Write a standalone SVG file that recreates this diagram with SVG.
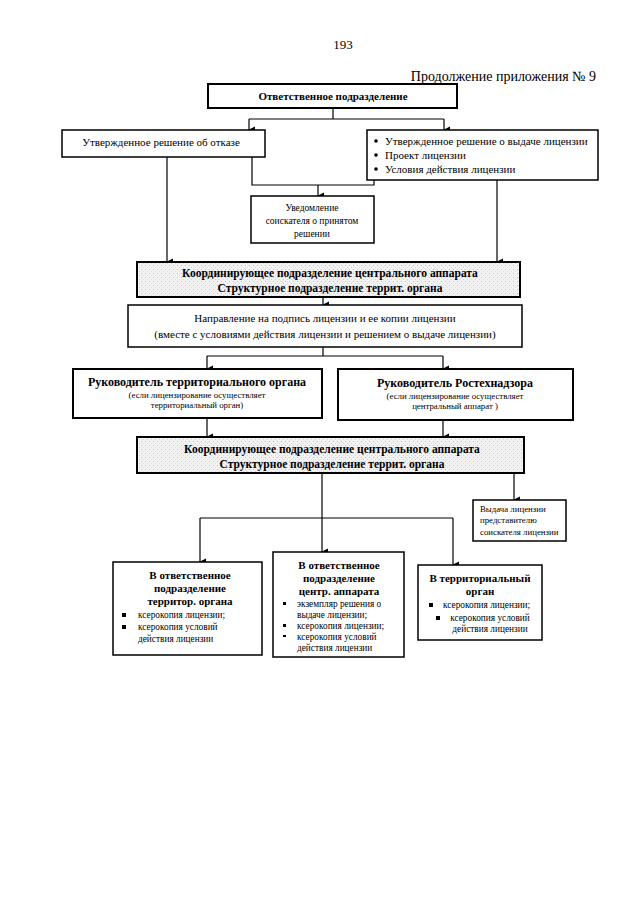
<svg xmlns="http://www.w3.org/2000/svg" width="640" height="905" viewBox="0 0 640 905">
<defs>
<marker id="ah" markerWidth="8" markerHeight="8" refX="4" refY="7" orient="auto-start-reverse" markerUnits="userSpaceOnUse" viewBox="0 0 8 8">
<path d="M0.5,1 L7.5,1 L4,8 Z" fill="#000"/>
</marker>
<pattern id="speck" width="4" height="4" patternUnits="userSpaceOnUse">
<rect width="4" height="4" fill="#f2f2f2"/>
<rect x="1" y="1" width="1" height="1" fill="#c4c4c4"/>
<rect x="3" y="3" width="1" height="1" fill="#d8d8d8"/>
</pattern>
</defs>
<style>
text{font-family:"Liberation Serif","Times New Roman",serif;fill:#000}
.box{fill:#fff;stroke:#000;stroke-width:1.5}
.thick{fill:#fff;stroke:#000;stroke-width:2}
.shade{fill:url(#speck);stroke:#000;stroke-width:2}
.n{font-size:11px}
.b{font-size:11.5px;font-weight:bold}
.bt{font-size:12px;font-weight:bold}
.s{font-size:8.8px}
.sm{font-size:9.5px}
.bb{font-size:11px;font-weight:bold}
.t{font-size:9.3px}
.c{text-anchor:middle}
.ln{fill:none;stroke:#000;stroke-width:1.2}
.ar{fill:none;stroke:#000;stroke-width:1.2;marker-end:url(#ah)}
</style>
<rect width="640" height="905" fill="#fff"/>
<text x="343" y="49" class="c" style="font-size:13px">193</text>
<text x="596" y="81" style="font-size:14px;text-anchor:end">Продолжение приложения № 9</text>

<g id="connectors">
<polyline class="ln" points="333,108 333,119"/>
<polyline class="ln" points="249,119 444,119"/>
<polyline class="ar" points="249,119 249,130"/>
<polyline class="ar" points="444,119 444,130"/>
<polyline class="ln" points="252,157 252,185 374,185 374,180"/>
<polyline class="ar" points="318,185 318,196"/>
<polyline class="ar" points="167,157 167,262"/>
<polyline class="ar" points="497,180 497,262"/>
<polyline class="ar" points="323,297 323,305"/>
<polyline class="ln" points="323,347 323,356"/>
<polyline class="ln" points="207,356 443,356"/>
<polyline class="ar" points="207,356 207,369"/>
<polyline class="ar" points="443,356 443,369"/>
<polyline class="ar" points="207,418 207,437"/>
<polyline class="ar" points="443,420 443,437"/>
<polyline class="ar" points="514,473 514,500"/>
<polyline class="ar" points="322,473 322,552"/>
<polyline class="ln" points="200,518 453,518"/>
<polyline class="ar" points="200,518 200,562"/>
<polyline class="ar" points="453,518 453,565"/>
</g>

<g id="n-otv">
<rect class="thick" x="208" y="84" width="249" height="24"/>
<text x="333" y="100" class="c" style="font-size:11px;font-weight:bold">Ответственное подразделение</text>
</g>

<g id="n-otkaz">
<rect class="box" x="62" y="130" width="203" height="27"/>
<text x="161" y="146" class="c n">Утвержденное решение об отказе</text>
</g>

<g id="n-vydacha">
<rect class="box" x="367" y="130" width="231" height="50"/>
<circle cx="376" cy="141" r="1.8"/>
<circle cx="376" cy="155" r="1.8"/>
<circle cx="376" cy="169" r="1.8"/>
<text x="385" y="145" class="n">Утвержденное решение о выдаче лицензии</text>
<text x="385" y="159" class="n">Проект лицензии</text>
<text x="385" y="173" class="n">Условия действия лицензии</text>
</g>

<g id="n-uved">
<rect class="box" x="251" y="196" width="123" height="47"/>
<text x="312" y="211" class="c sm">Уведомление</text>
<text x="312" y="224" class="c sm">соискателя о принятом</text>
<text x="312" y="237" class="c sm">решении</text>
</g>

<g id="n-koord1">
<rect class="shade" x="137" y="262" width="383" height="35"/>
<text x="330" y="277" class="c b">Координирующее подразделение центрального аппарата</text>
<text x="330" y="292" class="c b">Структурное подразделение террит. органа</text>
</g>

<g id="n-napr">
<rect class="box" x="128" y="305" width="394" height="42"/>
<text x="325" y="322" class="c n">Направление на подпись лицензии и ее копии лицензии</text>
<text x="325" y="338" class="c n">(вместе с условиями действия лицензии и решением о выдаче лицензии)</text>
</g>

<g id="n-ruk-terr">
<rect class="thick" x="73" y="369" width="249" height="49"/>
<text x="197" y="386" class="c bt">Руководитель территориального органа</text>
<text x="197" y="398" class="c s">(если лицензирование осуществляет</text>
<text x="197" y="408" class="c s">территориальный орган)</text>
</g>

<g id="n-ruk-rtn">
<rect class="thick" x="338" y="369" width="235" height="51"/>
<text x="455" y="387" class="c bt">Руководитель Ростехнадзора</text>
<text x="455" y="399" class="c s">(если лицензирование осуществляет</text>
<text x="455" y="409" class="c s">центральный аппарат )</text>
</g>

<g id="n-koord2">
<rect class="shade" x="137" y="437" width="387" height="36"/>
<text x="332" y="453" class="c b">Координирующее подразделение центрального аппарата</text>
<text x="332" y="468" class="c b">Структурное подразделение террит. органа</text>
</g>

<g id="n-vyd">
<rect class="box" x="473" y="500" width="93" height="41"/>
<text x="480" y="512" class="s">Выдача лицензии</text>
<text x="480" y="523" class="s">представителю</text>
<text x="480" y="535" class="s">соискателя лицензии</text>
</g>

<g id="n-terr-otv">
<rect class="box" x="113" y="562" width="149" height="93"/>
<text x="190" y="579" class="c bb">В ответственное</text>
<text x="190" y="592" class="c bb">подразделение</text>
<text x="190" y="605" class="c bb">территор. органа</text>
<rect x="122" y="613" width="4" height="4"/>
<text x="138" y="618" class="t">ксерокопия лицензии;</text>
<rect x="122" y="625" width="4" height="4"/>
<text x="138" y="630" class="t">ксерокопия условий</text>
<text x="138" y="642" class="t">действия лицензии</text>
</g>

<g id="n-centr-otv">
<rect class="box" x="273" y="552" width="131" height="105"/>
<text x="339" y="569" class="c bb">В ответственное</text>
<text x="339" y="582" class="c bb">подразделение</text>
<text x="339" y="595" class="c bb">центр. аппарата</text>
<rect x="283" y="602" width="3" height="3"/>
<text x="297" y="607" class="t">экземпляр решения о</text>
<text x="297" y="618" class="t">выдаче лицензии;</text>
<rect x="283" y="624" width="3" height="3"/>
<text x="297" y="629" class="t">ксерокопия лицензии;</text>
<rect x="283" y="635" width="3" height="2"/>
<text x="297" y="640" class="t">ксерокопия условий</text>
<text x="297" y="651" class="t">действия лицензии</text>
</g>

<g id="n-terr">
<rect class="box" x="418" y="565" width="124" height="75"/>
<text x="480" y="582" class="c bb">В территориальный</text>
<text x="480" y="595" class="c bb">орган</text>
<rect x="429" y="603" width="4" height="4"/>
<text x="443" y="608" class="t">ксерокопия лицензии;</text>
<rect x="436" y="616" width="4" height="4"/>
<text x="490" y="621" class="c t">ксерокопия условий</text>
<text x="490" y="632" class="c t">действия лицензии</text>
</g>
</svg>
